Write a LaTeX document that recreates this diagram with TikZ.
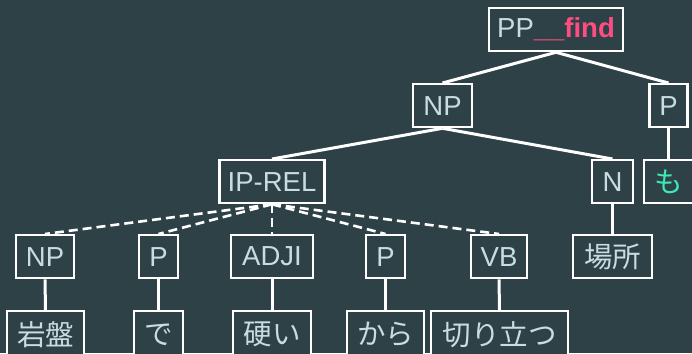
\documentclass[tikz,border=0pt]{standalone}
\usepackage{fontspec}
\setmainfont{Liberation Sans}
\newfontfamily\jpfont{Noto Sans CJK JP}
\definecolor{bg}{HTML}{2E4146}
\definecolor{txt}{HTML}{C8DCE2}
\definecolor{hot}{HTML}{FF4D82}
\definecolor{mint}{HTML}{3DE8B4}

\begin{document}
\begin{tikzpicture}[x=1pt,y=-1pt,
  tag/.style={draw=white, line width=2.3pt, fill=bg, text=txt,
    font=\fontsize{27.5}{30}\selectfont, minimum height=43pt,
    inner sep=0pt, anchor=north},
  word/.style={tag, font=\jpfont\fontsize{28.5}{30}\selectfont},
  leaf/.style={word, minimum height=47pt},
  edge/.style={draw=white, line width=3pt},
  soft/.style={edge, line width=2.6pt, dash pattern=on 9pt off 5pt}]

  % canvas
  \fill[bg] (0,0) rectangle (692,353);
  \useasboundingbox (0,0) rectangle (692,353);

  % level 1-3
  \node[tag, minimum width=134pt] (pp) at (556,7)
    {PP\textcolor{hot}{\bfseries\_\_find}};
  \node[tag, minimum width=59pt]  (np2) at (442.5,83) {NP};
  \node[tag, minimum width=38pt]  (p2)  at (668.5,83) {P};
  \node[tag, minimum width=105pt] (ip)  at (272,159) {IP-REL};
  \node[tag, minimum width=41pt]  (n)   at (612.5,159) {N};
  \node[word, minimum width=49pt, text=mint] (mo) at (668.5,159) {も};

  % level 4
  \node[tag, minimum width=58pt] (np4) at (45,234) {NP};
  \node[tag, minimum width=39pt] (pa)  at (158.5,234) {P};
  \node[tag, minimum width=82pt] (adj) at (272,234) {ADJI};
  \node[tag, minimum width=39pt] (pb)  at (385.5,234) {P};
  \node[tag, minimum width=56pt] (vb)  at (499,234) {VB};
  \node[word, minimum width=79pt] (basho) at (612.5,234) {場所};

  % level 5
  \node[leaf, minimum width=77pt]  (w1) at (45.5,310) {岩盤};
  \node[leaf, minimum width=49pt]  (w2) at (158.5,310) {で};
  \node[leaf, minimum width=78pt]  (w3) at (272,310) {硬い};
  \node[leaf, minimum width=77pt]  (w4) at (385.5,310) {から};
  \node[leaf, minimum width=137pt] (w5) at (499.5,310) {切り立つ};

  % solid branches
  \draw[edge] (pp.south) -- (np2.north);
  \draw[edge] (pp.south) -- (p2.north);
  \draw[edge] (np2.south) -- (ip.north);
  \draw[edge] (np2.south) -- (n.north);
  \draw[edge] (p2.south) -- (mo.north);
  \draw[edge] (n.south) -- (basho.north);

  % dashed branches of the relative clause
  \foreach \c in {np4,pa,adj,pb,vb}
    \draw[soft] (ip.south) -- (\c.north);

  % preterminal to word
  \draw[edge] (np4.south) -- (w1.north);
  \draw[edge] (pa.south) -- (w2.north);
  \draw[edge] (adj.south) -- (w3.north);
  \draw[edge] (pb.south) -- (w4.north);
  \draw[edge] (vb.south) -- (w5.north);
\end{tikzpicture}
\end{document}
